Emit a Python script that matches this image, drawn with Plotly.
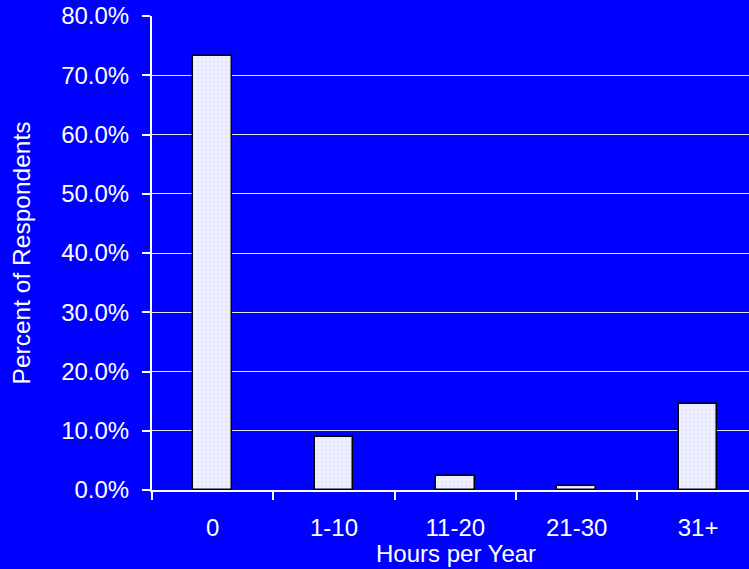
import plotly.graph_objects as go

categories = ["0", "1-10", "11-20", "21-30", "31+"]
percent_values = [73.2, 9.0, 2.4, 0.7, 14.6]
y_tick_values = [0, 10, 20, 30, 40, 50, 60, 70, 80]
y_tick_labels = ["0.0%", "10.0%", "20.0%", "30.0%", "40.0%", "50.0%", "60.0%", "70.0%", "80.0%"]

BLUE = "#0000FF"
FONT = "Liberation Sans, Arial, sans-serif"

fig = go.Figure()
fig.add_trace(go.Bar(
    x=categories,
    y=percent_values,
    width=0.32,
    marker=dict(
        color="#ECECFF",
        line=dict(color="#000000", width=1.5),
        pattern=dict(shape="+", fgcolor="#B4B4FF", bgcolor="#F4F4FF", size=4, solidity=0.25),
    ),
    hoverinfo="x+y",
))

fig.update_layout(
    width=749, height=569,
    paper_bgcolor=BLUE, plot_bgcolor=BLUE,
    margin=dict(l=152, r=0, t=16, b=79),
    font=dict(family=FONT, size=24, color="white"),
    showlegend=False,
    bargap=0,
)
fig.update_xaxes(
    range=[-0.5, 4.42],
    tickson="boundaries",
    ticks="outside", ticklen=8, tickcolor="white", tickwidth=1.5,
    showgrid=False,
    showline=True, linecolor="white", linewidth=2,
    tickfont=dict(size=24, color="white"),
    ticklabelstandoff=15,
)
fig.add_annotation(
    text="Hours per Year", xref="paper", yref="paper",
    x=0.51, y=-0.1345, xanchor="center", yanchor="middle",
    showarrow=False, font=dict(size=24, color="white", family=FONT),
)
fig.update_yaxes(
    range=[0, 80],
    tickvals=y_tick_values, ticktext=y_tick_labels,
    ticks="outside", ticklen=8, tickcolor="white", tickwidth=1.5,
    showgrid=True, gridcolor="#E0E0F8", gridwidth=1.2,
    showline=True, linecolor="white", linewidth=2,
    zeroline=False,
    tickfont=dict(size=24, color="white"),
    ticklabelstandoff=8,
    title=dict(text="Percent of Respondents", font=dict(size=24.5, color="white"), standoff=24),
)

fig.write_html("out.html")
